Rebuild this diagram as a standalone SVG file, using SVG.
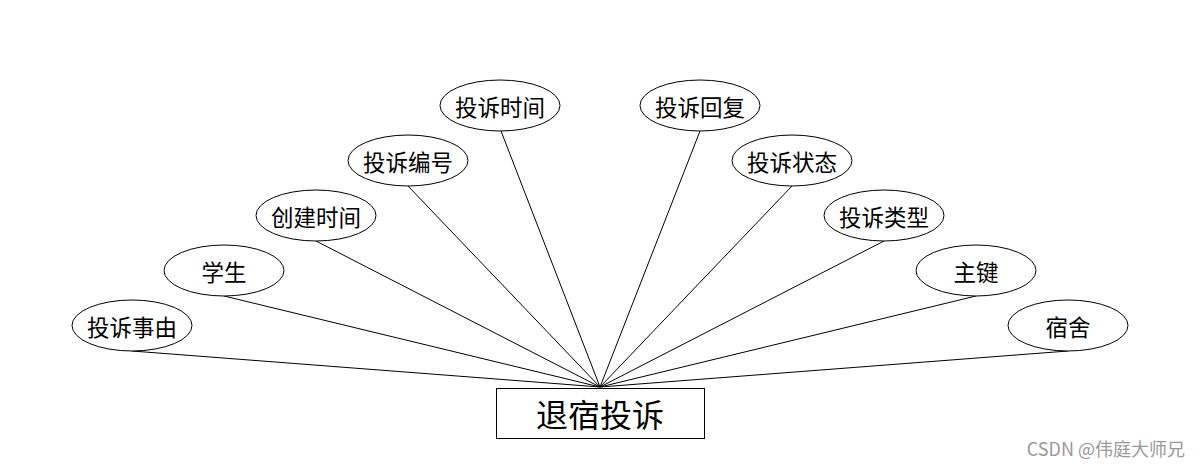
<svg xmlns="http://www.w3.org/2000/svg" width="1200" height="468" viewBox="0 0 1200 468">
<style>
.e{fill:#fff;stroke:#000;stroke-width:1}
.t{font-family:"Noto Sans CJK SC","Noto Sans",sans-serif;font-size:22.5px;fill:#000;text-anchor:middle;dominant-baseline:central}
.c line{stroke:#000;stroke-width:1}
</style>
<rect width="1200" height="468" fill="#fff"/>
<g class="c" id="connectors">
<line x1="132" y1="351" x2="600" y2="387"/>
<line x1="224" y1="296" x2="600" y2="387"/>
<line x1="316" y1="241" x2="600" y2="387"/>
<line x1="408" y1="186" x2="600" y2="387"/>
<line x1="501" y1="131" x2="600" y2="387"/>
<line x1="700" y1="131" x2="600" y2="387"/>
<line x1="792" y1="186" x2="600" y2="387"/>
<line x1="884" y1="241" x2="600" y2="387"/>
<line x1="976" y1="296" x2="600" y2="387"/>
<line x1="1068" y1="351" x2="600" y2="387"/>
</g>
<g id="n1"><ellipse class="e" cx="132" cy="325.5" rx="60" ry="25.5"/><text class="t" x="132" y="326">投诉事由</text></g>
<g id="n2"><ellipse class="e" cx="224" cy="270.5" rx="60" ry="25.5"/><text class="t" x="224" y="271">学生</text></g>
<g id="n3"><ellipse class="e" cx="316" cy="215.5" rx="60" ry="25.5"/><text class="t" x="316" y="216">创建时间</text></g>
<g id="n4"><ellipse class="e" cx="408" cy="160.5" rx="60" ry="25.5"/><text class="t" x="408" y="161">投诉编号</text></g>
<g id="n5"><ellipse class="e" cx="500" cy="105.5" rx="60" ry="25.5"/><text class="t" x="500" y="106">投诉时间</text></g>
<g id="n6"><ellipse class="e" cx="700" cy="105.5" rx="60" ry="25.5"/><text class="t" x="700" y="106">投诉回复</text></g>
<g id="n7"><ellipse class="e" cx="792" cy="160.5" rx="60" ry="25.5"/><text class="t" x="792" y="161">投诉状态</text></g>
<g id="n8"><ellipse class="e" cx="884" cy="215.5" rx="60" ry="25.5"/><text class="t" x="884" y="216">投诉类型</text></g>
<g id="n9"><ellipse class="e" cx="976" cy="270.5" rx="60" ry="25.5"/><text class="t" x="976" y="271">主键</text></g>
<g id="n10"><ellipse class="e" cx="1068" cy="325.5" rx="60" ry="25.5"/><text class="t" x="1068" y="326">宿舍</text></g>
<g id="main"><rect x="496.5" y="388.5" width="208" height="50" fill="#fff" stroke="#000" stroke-width="1"/><text class="t" x="600" y="413" style="font-size:32px">退宿投诉</text></g>
<text x="1185" y="456" font-family="'Noto Sans CJK SC','Noto Sans',sans-serif" font-size="18" fill="#999" text-anchor="end">CSDN @伟庭大师兄</text>
</svg>
